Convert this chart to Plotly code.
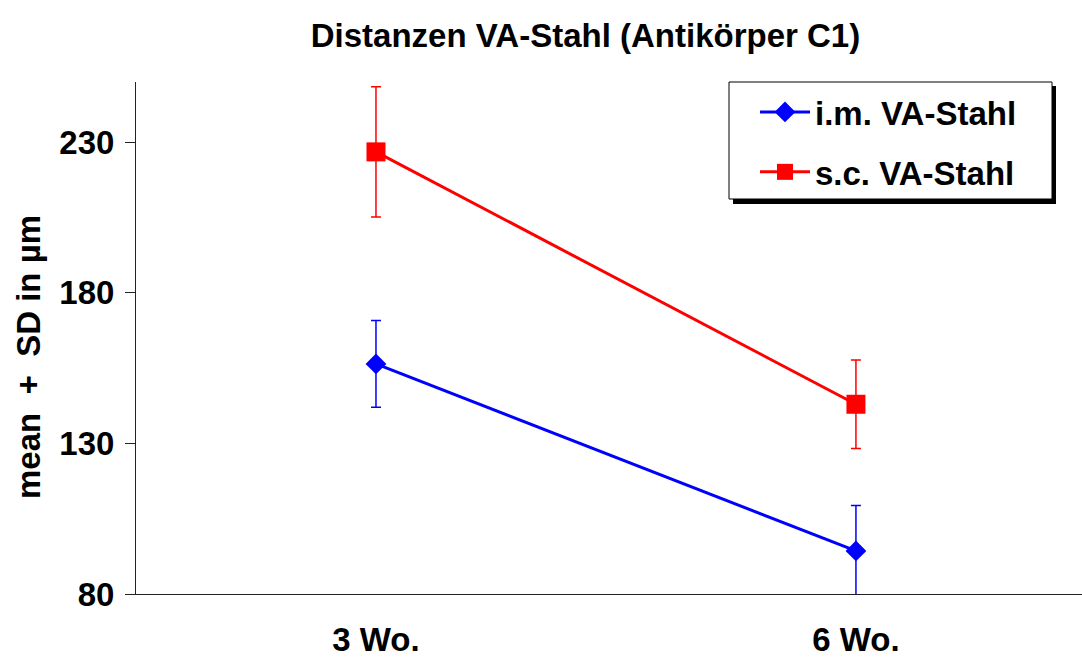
import plotly.graph_objects as go

categories = ["3 Wo.", "6 Wo."]
im_mean = [156.4, 94.3]
im_sd = [14.4, 15.1]
sc_mean = [226.8, 143.0]
sc_sd = [21.6, 14.7]
y_ticks = [80, 130, 180, 230]

FONT = "Liberation Sans, Arial, sans-serif"
FS = 33
W, H = 1082, 657
L, R, T, B = 136, 0, 82, 63

fig = go.Figure()
fig.add_trace(go.Scatter(
    x=categories, y=im_mean, name="i.m. VA-Stahl", mode="lines+markers",
    line=dict(color="#0000FF", width=3),
    marker=dict(symbol="diamond", size=16, color="#0000FF"),
    error_y=dict(type="data", array=im_sd, visible=True, color="#0000FF", thickness=1.5, width=5),
    legendgroup="a", cliponaxis=False,
))
fig.add_trace(go.Scatter(
    x=categories, y=sc_mean, name="s.c. VA-Stahl", mode="lines+markers",
    line=dict(color="#FF0000", width=3),
    marker=dict(symbol="square", size=19, color="#FF0000"),
    error_y=dict(type="data", array=sc_sd, visible=True, color="#FF0000", thickness=1.5, width=5),
    legendgroup="b", cliponaxis=False,
))

pw = W - L - R
ph = H - T - B
def px_x(p):
    return (p - L) / pw
def px_y(p):
    return 1 - (p - T) / ph

# legend shadow and frame
fig.add_shape(type="rect", xref="paper", yref="paper",
              x0=px_x(733), x1=px_x(1056), y0=px_y(204), y1=px_y(86),
              fillcolor="black", line=dict(width=0), layer="above")
fig.add_shape(type="rect", xref="paper", yref="paper",
              x0=px_x(729), x1=px_x(1052), y0=px_y(199), y1=px_y(82),
              fillcolor="white", line=dict(width=1, color="black"), layer="above")

fig.add_annotation(text="mean  +  SD in µm", textangle=-90, xref="paper", yref="paper",
                   x=px_x(28), y=px_y(357), xanchor="center", yanchor="middle",
                   showarrow=False, font=dict(family=FONT, size=FS, color="black", weight="bold"))

fig.update_layout(
    width=W, height=H,
    margin=dict(l=L, r=R, t=T, b=B, pad=0, autoexpand=False),
    paper_bgcolor="white", plot_bgcolor="white",
    title=dict(text="Distanzen VA-Stahl (Antikörper C1)", x=585.5 / W, xref="container", xanchor="center",
               y=1 - 35 / H, yref="container", yanchor="middle",
               font=dict(family=FONT, size=FS, color="black", weight="bold")),
    xaxis=dict(type="category", range=[-0.5, 1.471], showline=True, linecolor="#222222", linewidth=1,
               ticks="", showgrid=False, zeroline=False, ticklabelstandoff=16, automargin=False,
               tickfont=dict(family=FONT, size=FS, color="black", weight="bold")),
    yaxis=dict(range=[80, 250], tickvals=y_ticks, showline=True, linecolor="#222222", linewidth=1,
               ticks="outside", ticklen=10, tickcolor="#222222", showgrid=False, zeroline=False,
               ticklabelstandoff=4, automargin=False,
               tickfont=dict(family=FONT, size=FS, color="black", weight="bold")),
    showlegend=True,
    legend=dict(x=px_x(755), y=px_y(84), xanchor="left", yanchor="top", bgcolor="rgba(0,0,0,0)",
                borderwidth=0, tracegroupgap=14, itemwidth=50,
                font=dict(family=FONT, size=FS, color="black", weight="bold")),
)

fig.write_html("out.html", config={"displayModeBar": False},
               post_script="document.body.style.margin='0';document.body.style.overflow='hidden';")
